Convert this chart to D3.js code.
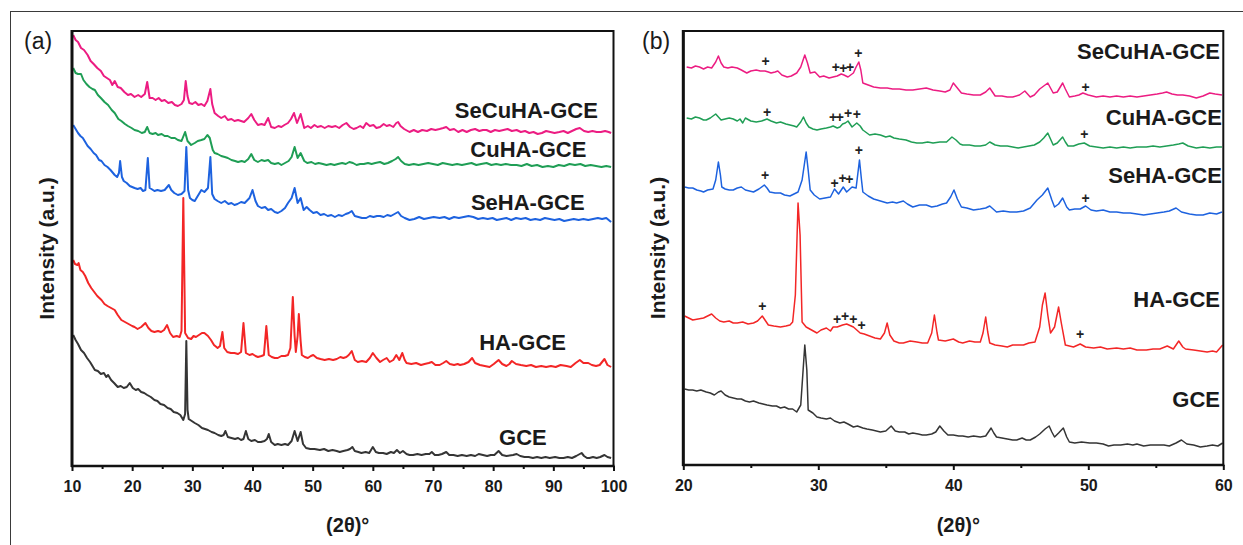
<!DOCTYPE html>
<html><head><meta charset="utf-8">
<script src="https://cdn.jsdelivr.net/npm/d3@7"></script>
<style>body{margin:0;background:#fff;} text{font-family:"Liberation Sans",Arial,Helvetica,sans-serif;}</style>
</head><body><svg id="c" width="1243" height="545"></svg>
<script>
// ---------- DATA ----------
const seriesNames = ["SeCuHA-GCE","CuHA-GCE","SeHA-GCE","HA-GCE","GCE"];
const seriesColors = ["#ec1c82","#1f9e55","#1d62df","#f32626","#353535"];
const xTicksA = [10,20,30,40,50,60,70,80,90,100];
const xMinorA = [15,25,35,45,55,65,75,85,95];
const xTicksB = [20,30,40,50,60];
const xMinorB = [25,35,45,55];

// Panel (a): [2theta, intensity a.u.]
const aSeCuHA = [[10.2,431],[10.6,426],[11.0,424],[11.5,418],[12.0,416],[12.6,411],[13.1,405],[13.6,402],[14.2,398],[14.8,395],[15.3,390],[15.8,388],[16.3,386],[16.7,381],[17.1,385],[17.6,379],[18.1,378],[18.7,374],[19.3,371],[19.8,372],[20.4,369],[21.0,371],[21.5,369],[22.1,372],[22.5,384],[22.9,368],[23.4,368],[23.9,366],[24.4,368],[24.9,365],[25.4,366],[26.0,363],[26.6,364],[27.1,361],[27.6,360],[28.2,362],[28.6,366],[28.9,385],[29.2,370],[29.5,363],[30.0,362],[30.5,364],[31.0,361],[31.5,362],[32.0,360],[32.5,365],[33.0,377],[33.3,362],[33.7,353],[34.3,350],[34.8,348],[35.4,350],[35.9,346],[36.5,347],[37.0,345],[37.6,346],[38.1,345],[38.6,344],[39.3,348],[39.8,352],[40.3,346],[40.9,341],[41.5,342],[42.0,341],[42.6,348],[43.1,339],[43.7,338],[44.3,340],[44.8,339],[45.3,341],[45.9,343],[46.4,347],[46.9,353],[47.4,343],[48.0,352],[48.6,338],[49.2,340],[49.7,338],[50.3,341],[50.8,339],[51.4,340],[52.0,338],[52.6,340],[53.2,339],[53.8,340],[54.4,338],[55.0,341],[55.6,343],[56.2,339],[56.8,337],[57.3,338],[57.9,340],[58.4,338],[58.9,343],[59.5,340],[60.1,341],[60.6,338],[61.2,339],[61.8,342],[62.3,340],[62.8,341],[63.4,339],[63.9,343],[64.2,344],[64.6,340],[65.2,337],[66.1,334],[66.8,336],[67.5,334],[68.2,336],[69.0,335],[69.7,337],[70.4,336],[71.1,337],[71.7,338],[72.2,339],[72.8,336],[73.5,337],[74.2,334],[74.9,336],[75.6,334],[76.3,336],[77.0,337],[77.7,335],[78.3,336],[78.9,336],[79.6,334],[80.3,336],[81.0,335],[81.7,336],[82.4,337],[83.1,335],[83.9,336],[84.6,334],[85.3,335],[86.0,333],[86.7,334],[87.4,332],[88.1,333],[88.8,335],[89.5,334],[90.2,333],[91.0,334],[91.7,335],[92.4,333],[93.1,335],[93.8,337],[94.4,338],[95.1,335],[95.8,334],[96.5,335],[97.2,334],[97.9,334],[98.6,335],[99.2,334],[99.6,333]];
const aCuHA = [[10.2,398],[10.6,393],[11.0,392],[11.5,392],[11.9,386],[12.4,382],[12.9,379],[13.4,377],[13.8,376],[14.3,371],[14.8,368],[15.4,364],[16.0,361],[16.6,356],[17.1,353],[17.7,347],[18.2,345],[18.8,342],[19.3,340],[19.9,338],[20.4,336],[21.0,335],[21.6,333],[22.1,334],[22.5,339],[22.9,333],[23.4,332],[23.9,333],[24.3,331],[24.9,332],[25.4,330],[25.9,330],[26.5,328],[27.1,328],[27.6,326],[28.2,325],[28.8,334],[29.2,325],[29.8,321],[30.4,323],[30.9,325],[31.5,326],[32.0,327],[32.5,331],[32.9,328],[33.1,323],[33.4,316],[33.7,313],[34.2,312],[34.8,310],[35.4,309],[35.9,308],[36.5,306],[37.1,305],[37.6,304],[38.2,305],[38.7,304],[39.3,307],[39.8,312],[40.3,306],[40.9,304],[41.5,306],[42.0,305],[42.6,306],[43.1,303],[43.7,302],[44.3,303],[44.8,301],[45.4,303],[46.0,305],[46.5,309],[47.0,319],[47.5,308],[48.0,313],[48.6,305],[49.1,303],[49.8,304],[50.4,302],[51.0,303],[51.7,302],[52.3,301],[53.0,302],[53.6,301],[54.2,302],[54.9,303],[55.5,302],[56.1,304],[56.7,303],[57.3,301],[57.9,302],[58.5,302],[59.2,303],[59.8,302],[60.4,303],[61.2,304],[61.9,302],[62.5,303],[63.2,305],[63.8,307],[64.2,309],[64.7,305],[65.3,302],[66.0,301],[66.8,302],[67.6,301],[68.4,302],[69.2,303],[70.0,302],[70.8,301],[71.6,303],[72.4,302],[73.2,301],[74.0,302],[74.8,301],[75.6,302],[76.4,303],[77.2,301],[78.0,302],[78.9,303],[79.7,301],[80.5,302],[81.3,301],[82.1,302],[83.0,301],[83.9,301],[84.7,300],[85.6,302],[86.4,300],[87.3,301],[88.2,299],[89.1,300],[90.0,299],[90.9,301],[91.8,300],[92.7,302],[93.6,301],[94.5,302],[95.3,300],[96.2,301],[97.1,300],[98.0,299],[98.8,300],[99.6,299]];
const aSeHA = [[10.2,341],[10.6,337],[11.0,333],[11.4,330],[11.8,328],[12.2,324],[12.6,320],[13.1,317],[13.6,313],[14.0,311],[14.5,306],[14.9,305],[15.4,301],[15.9,299],[16.4,296],[17.1,291],[17.5,289],[17.8,293],[18.0,305],[18.3,289],[18.6,285],[19.1,283],[19.6,280],[20.0,279],[20.4,278],[20.9,277],[21.4,278],[21.8,275],[22.2,276],[22.6,308],[22.9,278],[23.2,277],[23.7,275],[24.2,276],[24.8,275],[25.4,276],[26.1,281],[26.5,276],[27.0,273],[27.6,271],[28.2,272],[28.7,275],[29.0,319],[29.3,276],[29.6,268],[30.0,266],[30.4,265],[30.9,270],[31.5,276],[32.0,274],[32.6,278],[33.0,309],[33.3,272],[33.7,267],[34.2,265],[34.8,263],[35.4,265],[36.0,262],[36.5,263],[37.0,261],[37.5,262],[38.1,264],[38.7,263],[39.5,268],[40.0,276],[40.5,265],[40.9,260],[41.5,258],[42.1,259],[42.6,256],[43.1,257],[43.7,254],[44.2,253],[44.8,255],[45.4,258],[45.9,263],[46.5,268],[47.0,278],[47.5,263],[48.0,268],[48.5,256],[49.0,259],[49.5,256],[50.1,253],[50.7,254],[51.3,251],[51.9,252],[52.5,250],[53.1,251],[53.7,249],[54.3,251],[54.9,250],[55.5,252],[56.0,253],[56.5,255],[57.0,250],[57.6,249],[58.2,248],[58.9,248],[59.5,250],[60.1,249],[60.7,250],[61.2,250],[61.8,249],[62.4,251],[63.0,250],[63.6,252],[64.2,254],[64.7,250],[65.3,248],[66.1,246],[66.9,247],[67.7,249],[68.5,247],[69.3,248],[70.1,249],[71.1,248],[71.9,249],[72.7,247],[73.5,249],[74.3,248],[75.1,249],[75.9,250],[76.7,249],[77.5,247],[78.3,248],[79.1,247],[79.9,248],[80.6,246],[81.4,247],[82.2,248],[83.0,246],[83.8,248],[84.6,247],[85.4,248],[86.2,246],[87.0,247],[87.8,246],[88.6,248],[89.4,247],[90.2,246],[91.0,247],[91.8,245],[92.6,246],[93.4,247],[94.2,246],[95.0,247],[95.8,246],[96.6,247],[97.4,248],[98.1,247],[98.8,248],[99.2,246],[99.6,244]];
const aHA = [[10.2,206],[10.5,202],[10.9,201],[11.1,203],[11.4,196],[11.8,194],[12.2,190],[12.7,183],[13.2,178],[13.7,174],[14.2,170],[14.9,166],[15.4,162],[15.9,160],[16.5,158],[17.1,156],[17.6,151],[18.2,146],[18.8,144],[19.4,142],[20.0,140],[20.4,139],[20.9,137],[21.5,139],[22.2,143],[22.7,138],[23.2,135],[23.7,134],[24.3,135],[24.8,134],[25.3,136],[25.8,141],[26.3,133],[26.8,129],[27.4,130],[27.9,129],[28.2,135],[28.5,268],[28.8,133],[29.3,128],[29.8,127],[30.2,130],[30.6,129],[31.1,131],[31.6,133],[32.0,133],[32.6,130],[33.1,126],[33.6,121],[34.2,118],[34.6,120],[35.0,134],[35.3,118],[35.8,114],[36.4,113],[37.0,113],[37.6,112],[38.1,114],[38.5,143],[38.9,113],[39.5,111],[40.0,112],[40.5,110],[40.9,109],[41.5,110],[41.9,111],[42.3,140],[42.7,111],[43.2,109],[43.7,108],[44.2,108],[44.8,110],[45.4,110],[45.9,111],[46.3,118],[46.7,169],[47.0,130],[47.2,114],[47.5,130],[47.7,152],[48.0,125],[48.2,111],[48.7,109],[49.2,108],[49.7,110],[50.1,111],[50.7,108],[51.3,107],[52.0,106],[52.7,107],[53.4,106],[54.0,107],[54.6,109],[55.1,108],[55.6,109],[56.0,111],[56.5,115],[57.0,106],[57.5,104],[58.2,105],[58.9,104],[59.5,108],[60.0,113],[60.6,108],[61.2,104],[61.7,106],[62.3,108],[62.8,104],[63.4,106],[63.9,111],[64.4,106],[64.9,113],[65.3,106],[65.6,103],[66.4,102],[67.2,103],[68.0,101],[68.6,102],[69.3,103],[69.8,104],[70.4,101],[71.1,101],[71.7,103],[72.2,105],[72.8,102],[73.5,101],[74.1,102],[74.5,101],[75.2,102],[75.9,104],[76.5,108],[77.0,103],[77.8,101],[78.6,100],[79.4,99],[80.1,102],[80.9,106],[81.5,102],[82.2,100],[82.7,102],[83.1,105],[83.8,102],[84.6,101],[85.5,100],[86.3,101],[87.1,99],[88.0,100],[88.8,99],[89.6,100],[90.4,99],[91.2,101],[92.2,100],[92.9,99],[93.7,103],[94.4,106],[95.0,103],[95.8,103],[96.4,101],[97.1,100],[97.7,101],[98.5,107],[99.0,101],[99.6,99]];
const aGCE = [[10.2,131],[10.6,126],[11.0,122],[11.5,116],[12.0,113],[12.5,108],[13.0,104],[13.4,100],[13.8,96],[14.3,95],[14.8,92],[15.3,93],[15.7,89],[16.0,91],[16.5,86],[17.0,83],[17.6,79],[18.1,80],[18.6,78],[19.1,79],[19.6,83],[20.1,78],[20.6,76],[21.0,77],[21.5,74],[22.0,73],[22.5,71],[23.1,69],[23.7,66],[24.2,65],[24.7,62],[25.3,61],[25.9,58],[26.4,57],[26.9,54],[27.5,53],[28.0,51],[28.2,49],[28.5,46],[28.8,52],[29.0,125],[29.2,56],[29.4,47],[29.9,45],[30.4,43],[31.0,41],[31.6,38],[32.1,37],[32.6,36],[33.2,34],[33.7,33],[34.3,31],[34.8,30],[35.2,31],[35.5,35],[35.9,29],[36.5,28],[37.1,27],[37.6,28],[38.1,26],[38.5,27],[38.9,35],[39.3,27],[39.8,25],[40.4,26],[40.9,24],[41.4,24],[42.0,25],[42.4,27],[42.7,32],[43.1,24],[43.7,21],[44.2,22],[44.8,21],[45.4,22],[45.9,21],[46.5,25],[47.0,35],[47.5,25],[48.0,34],[48.4,22],[48.9,18],[49.6,17],[50.3,17],[51.2,16],[51.9,17],[52.6,15],[53.3,16],[54.0,15],[54.5,14],[55.1,15],[55.8,16],[56.2,17],[56.6,19],[57.0,15],[57.6,14],[58.1,13],[58.8,14],[59.4,13],[60.0,19],[60.5,14],[61.0,13],[61.7,13],[62.3,12],[63.0,14],[63.5,13],[64.0,16],[64.5,13],[65.0,15],[65.6,12],[66.1,11],[66.7,11],[67.4,12],[68.1,11],[68.8,12],[69.4,12],[69.8,14],[70.3,11],[70.9,11],[71.5,12],[72.2,14],[72.7,11],[73.4,11],[74.1,10],[74.8,11],[75.6,10],[76.3,11],[77.0,10],[77.6,12],[78.3,11],[79.0,10],[79.6,11],[80.2,11],[80.9,15],[81.5,11],[82.2,10],[83.3,11],[83.9,12],[84.5,10],[85.2,9],[85.9,9],[86.6,8],[87.3,9],[88.0,8],[88.7,9],[89.4,8],[90.3,9],[91.0,8],[91.7,8],[92.4,9],[93.1,8],[93.8,10],[94.4,12],[94.7,13],[95.1,10],[95.6,8],[96.0,8],[96.6,9],[97.2,8],[97.8,9],[98.5,11],[99.0,9],[99.6,8]];

// Panel (b): [2theta, intensity a.u.]
const bSeCuHA = [[20.25,398],[20.6,397],[20.9,399],[21.2,398],[21.5,396],[21.8,398],[22.1,397],[22.4,403],[22.6,409],[22.8,402],[23.0,398],[23.3,397],[23.6,398],[24.0,397],[24.3,395],[24.7,392],[25.0,394],[25.4,395],[25.7,394],[26.05,394],[26.3,393],[26.5,392],[26.8,393],[27.0,394],[27.3,390],[27.7,388],[28.0,389],[28.4,392],[28.7,398],[29.0,410],[29.2,402],[29.4,392],[29.75,393],[30.1,388],[30.4,389],[30.8,387],[31.1,388],[31.4,389],[31.7,391],[31.9,390],[32.2,388],[32.6,392],[32.8,398],[33.0,403],[33.15,395],[33.3,382],[33.7,380],[34.1,378],[34.6,377],[35.1,377],[35.5,376],[36.0,376],[36.5,375],[37.0,375],[37.5,376],[38.0,377],[38.5,375],[39.0,374],[39.4,373],[39.75,375],[40.0,382],[40.3,377],[40.6,372],[41.0,371],[41.5,370],[42.0,370],[42.4,373],[42.7,377],[43.1,369],[43.6,369],[44.0,368],[44.4,368],[44.9,370],[45.3,374],[45.7,368],[46.0,370],[46.4,376],[47.0,382],[47.4,372],[47.7,373],[48.1,382],[48.3,376],[48.6,368],[49.0,369],[49.3,370],[49.6,372],[50.0,370],[50.6,368],[51.1,369],[51.6,368],[52.1,369],[52.6,368],[53.1,369],[53.6,368],[54.1,369],[54.6,370],[55.1,371],[55.5,372],[55.8,373],[56.2,371],[56.6,370],[57.0,370],[57.5,369],[58.0,367],[58.5,369],[59.0,372],[59.4,371],[59.9,370]];
const bCuHA = [[20.25,347],[20.6,346],[20.9,348],[21.2,347],[21.5,345],[21.7,345],[22.0,347],[22.4,351],[22.6,348],[22.8,345],[23.1,346],[23.4,347],[23.7,346],[24.0,344],[24.2,346],[24.4,342],[24.6,347],[25.0,344],[25.4,343],[25.8,344],[26.2,346],[26.5,344],[26.9,342],[27.2,343],[27.6,341],[27.9,340],[28.2,339],[28.4,338],[28.7,343],[28.9,348],[29.1,342],[29.3,338],[29.6,336],[29.9,335],[30.2,336],[30.6,337],[30.9,338],[31.1,339],[31.4,337],[31.6,338],[31.8,341],[32.0,342],[32.2,344],[32.5,338],[32.85,342],[33.1,339],[33.3,335],[33.6,332],[33.8,330],[34.2,331],[34.6,330],[35.0,328],[35.3,329],[35.6,327],[36.0,326],[36.5,325],[36.9,323],[37.3,322],[37.7,322],[38.1,323],[38.5,322],[39.0,323],[39.5,323],[39.9,328],[40.2,325],[40.5,321],[40.7,320],[41.2,320],[41.6,319],[42.0,319],[42.4,320],[42.7,323],[43.1,320],[43.5,319],[44.0,319],[44.4,318],[44.8,317],[45.2,318],[45.6,319],[46.0,320],[46.4,323],[46.7,327],[47.0,332],[47.2,326],[47.4,320],[47.7,322],[48.1,328],[48.3,323],[48.5,319],[48.9,319],[49.3,321],[49.7,322],[50.1,319],[50.6,318],[51.1,317],[51.6,318],[52.1,317],[52.6,318],[53.1,317],[53.6,318],[54.3,318],[54.8,319],[55.3,318],[55.8,319],[56.3,320],[56.7,321],[57.0,322],[57.4,319],[58.0,317],[58.5,318],[59.0,317],[59.5,318],[59.9,318]];
const bSeHA = [[20.1,278],[20.4,277],[20.7,277],[21.0,275],[21.3,274],[21.5,273],[21.8,275],[22.2,276],[22.4,285],[22.6,303],[22.75,290],[22.85,278],[23.1,276],[23.4,275],[23.7,275],[24.0,277],[24.3,278],[24.6,275],[24.9,274],[25.2,273],[25.6,276],[26.0,280],[26.2,277],[26.4,273],[26.8,272],[27.2,272],[27.5,270],[27.9,269],[28.2,271],[28.5,273],[28.8,285],[29.1,313],[29.25,295],[29.4,275],[29.7,270],[30.1,266],[30.5,267],[30.9,268],[31.2,276],[31.5,271],[31.85,278],[32.1,273],[32.5,278],[32.8,277],[33.05,305],[33.2,285],[33.3,273],[33.7,269],[34.1,266],[34.6,264],[35.1,262],[35.5,263],[35.8,262],[36.3,264],[36.6,261],[37.0,258],[37.5,260],[38.0,260],[38.4,258],[38.8,259],[39.2,261],[39.5,262],[39.8,268],[40.05,275],[40.3,266],[40.6,258],[41.0,257],[41.5,255],[42.0,256],[42.4,257],[42.7,259],[43.2,253],[43.7,254],[44.2,253],[44.7,253],[45.2,254],[45.7,257],[46.2,265],[46.6,270],[47.0,277],[47.3,265],[47.5,258],[47.8,261],[48.1,267],[48.4,258],[48.6,255],[49.0,256],[49.4,256],[49.8,259],[50.2,255],[50.6,254],[51.1,255],[51.6,253],[52.1,253],[52.6,252],[53.1,252],[53.6,251],[54.1,250],[54.6,251],[55.1,252],[55.6,253],[56.0,254],[56.5,257],[56.9,253],[57.5,251],[58.0,250],[58.5,250],[59.0,252],[59.5,251],[59.9,253]];
const bHA = [[20.1,149],[20.4,147],[20.7,145],[21.1,146],[21.5,147],[21.8,149],[22.1,151],[22.4,147],[22.7,144],[23.0,143],[23.4,144],[23.7,142],[24.0,142],[24.4,143],[24.8,141],[25.2,142],[25.5,144],[25.85,149],[26.1,144],[26.3,140],[26.7,139],[27.2,138],[27.6,139],[27.9,140],[28.1,143],[28.3,170],[28.5,262],[28.65,230],[28.8,143],[29.1,138],[29.5,135],[29.9,132],[30.2,135],[30.6,137],[30.9,134],[31.1,138],[31.4,138],[31.8,140],[32.1,141],[32.6,138],[33.1,132],[33.4,131],[33.8,129],[34.2,127],[34.6,126],[34.9,132],[35.1,142],[35.3,130],[35.6,124],[36.0,122],[36.3,122],[36.8,124],[37.3,123],[37.7,122],[38.1,122],[38.4,132],[38.6,150],[38.8,132],[38.9,125],[39.4,124],[40.0,126],[40.4,123],[40.7,122],[41.2,124],[41.6,123],[42.0,123],[42.2,132],[42.4,148],[42.55,133],[42.7,122],[43.1,120],[43.6,119],[44.0,118],[44.4,120],[44.8,120],[45.2,120],[45.6,122],[46.05,123],[46.4,138],[46.6,160],[46.8,172],[47.0,150],[47.2,132],[47.5,138],[47.8,158],[48.0,142],[48.3,120],[48.6,119],[48.9,118],[49.4,121],[49.8,118],[50.4,117],[50.9,118],[51.4,116],[52.1,117],[52.6,116],[53.1,117],[53.6,115],[54.3,115],[54.8,116],[55.3,116],[55.85,119],[56.3,116],[56.7,124],[57.0,118],[57.2,116],[57.8,115],[58.3,114],[58.8,113],[59.2,114],[59.5,113],[59.95,120]];
const bGCE = [[20.1,76],[20.4,75],[20.7,75],[21.0,74],[21.3,75],[21.7,73],[22.0,72],[22.3,70],[22.6,73],[22.8,74],[23.1,70],[23.4,68],[23.7,67],[24.0,66],[24.3,66],[24.6,64],[24.9,63],[25.2,64],[25.6,62],[25.9,61],[26.2,60],[26.6,59],[26.9,59],[27.2,57],[27.5,58],[27.8,56],[28.1,56],[28.4,53],[28.7,60],[28.85,90],[29.0,120],[29.15,95],[29.25,55],[29.6,52],[29.9,48],[30.2,47],[30.6,46],[30.9,47],[31.2,44],[31.6,42],[31.9,43],[32.2,41],[32.6,38],[32.9,39],[33.3,37],[33.6,36],[34.0,35],[34.3,34],[34.6,33],[35.0,34],[35.4,39],[35.7,34],[36.0,33],[36.4,33],[36.7,31],[37.0,32],[37.4,31],[37.7,30],[38.0,30],[38.4,31],[38.7,33],[39.0,39],[39.3,34],[39.6,30],[40.0,30],[40.4,29],[40.7,29],[41.1,28],[41.5,29],[42.0,28],[42.4,29],[42.8,37],[43.0,32],[43.2,28],[43.6,27],[44.0,26],[44.4,25],[44.7,25],[45.1,27],[45.4,25],[45.7,25],[46.1,28],[46.4,31],[46.8,36],[47.1,39],[47.3,33],[47.5,28],[47.8,32],[48.15,37],[48.4,28],[48.6,23],[49.0,22],[49.5,23],[50.1,22],[50.6,22],[51.1,21],[51.5,19],[51.9,20],[52.4,20],[52.9,21],[53.3,20],[53.6,21],[54.1,19],[54.6,20],[55.1,20],[55.6,20],[56.0,19],[56.5,22],[56.9,25],[57.3,21],[57.8,20],[58.3,18],[58.8,19],[59.2,20],[59.6,19],[59.95,22]];

// "+" markers in panel (b): [2theta, intensity]
const plusSeCuHA = [[26.1,404],[31.3,398],[31.85,397],[32.35,398],[32.96,412],[49.8,378]];
const plusCuHA = [[26.2,353],[31.1,348],[31.6,348],[32.2,352],[32.85,351],[49.7,331]];
const plusSeHA = [[26.05,290],[31.2,282],[31.8,287],[32.3,286],[33.0,315],[49.8,267]];
const plusHA = [[25.85,159],[31.4,146],[31.98,149],[32.6,146],[33.2,140],[49.4,131]];

// ---------- DRAW ----------
const svg = d3.select("#c");
const FONT = '"Liberation Sans",Arial,Helvetica,sans-serif';

svg.append("rect").attr("x",10.5).attr("y",11.5).attr("width",1240).attr("height",540)
  .attr("fill","none").attr("stroke","#3a3a3a").attr("stroke-width",1);

function panel(cfg){
  const x = d3.scaleLinear().domain(cfg.xdom).range([cfg.left, cfg.right]);
  const y = d3.scaleLinear().domain(cfg.ydom).range([cfg.bottom, cfg.top]);
  const g = svg.append("g");
  const line = d3.line().x(d=>x(d[0])).y(d=>y(d[1]));
  for (let i = cfg.series.length-1; i >= 0; i--) {
    g.append("path").datum(cfg.series[i]).attr("d", line)
      .attr("fill","none").attr("stroke", seriesColors[i])
      .attr("stroke-width", cfg.lw).attr("stroke-linejoin","round");
  }
  if (cfg.plus) {
    cfg.plus.forEach(arr => {
      g.selectAll(null).data(arr).enter().append("text")
        .attr("x", d=>x(d[0])).attr("y", d=>y(d[1]))
        .attr("text-anchor","middle").attr("dominant-baseline","central")
        .attr("font-family",FONT).attr("font-size",14).attr("font-weight","bold")
        .attr("fill","#222").text("+");
    });
  }
  cfg.labels.forEach((lb,i) => {
    g.append("text").attr("x", x(lb[0])).attr("y", y(lb[1]))
      .attr("text-anchor","end").attr("font-family",FONT)
      .attr("font-size",22).attr("font-weight","bold").attr("fill","#1a1a1a")
      .text(seriesNames[i]);
  });
  g.append("rect").attr("x",cfg.left).attr("y",cfg.top)
    .attr("width",cfg.right-cfg.left).attr("height",cfg.bottom-cfg.top)
    .attr("fill","none").attr("stroke","#111").attr("stroke-width",2);
  g.append("line").attr("x1",cfg.left).attr("x2",cfg.left).attr("y1",cfg.top-1).attr("y2",cfg.bottom+1)
    .attr("stroke","#111").attr("stroke-width",3);
  g.append("line").attr("x1",cfg.left-1).attr("x2",cfg.right+1).attr("y1",cfg.bottom).attr("y2",cfg.bottom)
    .attr("stroke","#111").attr("stroke-width",2.5);
  const ax = g.append("g").attr("transform",`translate(0,${cfg.bottom})`)
    .call(d3.axisBottom(x).tickValues(cfg.ticks).tickSize(5).tickPadding(10).tickFormat(d3.format("d")));
  ax.select(".domain").remove();
  ax.selectAll(".tick line").attr("stroke","#111").attr("stroke-width",2);
  ax.selectAll(".tick text").attr("font-family",FONT).attr("font-size",16)
    .attr("font-weight","bold").attr("fill","#1a1a1a");
  const axm = g.append("g").attr("transform",`translate(0,${cfg.bottom})`)
    .call(d3.axisBottom(x).tickValues(cfg.minor).tickSize(3).tickFormat(""));
  axm.select(".domain").remove();
  axm.selectAll(".tick line").attr("stroke","#111").attr("stroke-width",2);
  g.append("text").attr("x",(cfg.left+cfg.right)/2+5).attr("y",532)
    .attr("text-anchor","middle").attr("font-family",FONT).attr("font-size",20)
    .attr("font-weight","bold").attr("fill","#1a1a1a").text("(2θ)°");
  g.append("text").attr("transform",`translate(${cfg.ytx},${(cfg.top+cfg.bottom)/2}) rotate(-90)`)
    .attr("text-anchor","middle").attr("dominant-baseline","central")
    .attr("font-family",FONT).attr("font-size",21).attr("font-weight","bold")
    .attr("fill","#1a1a1a").text("Intensity (a.u.)");
  g.append("text").attr("x",cfg.tagx).attr("y",49).attr("font-family",FONT)
    .attr("font-size",23).attr("fill","#1a1a1a").text(cfg.tag);
}

panel({left:72, right:613.5, top:31, bottom:466, xdom:[10,100], ydom:[0,435],
  series:[aSeCuHA,aCuHA,aSeHA,aHA,aGCE], lw:2.0,
  ticks:xTicksA, minor:xMinorA, ytx:46, tag:"(a)", tagx:24,
  labels:[[97.4,348],[95.5,309],[95.2,256],[92.1,116],[88.9,21]]});

panel({left:683.3, right:1223.3, top:31, bottom:465, xdom:[20,60], ydom:[0,434],
  series:[bSeCuHA,bCuHA,bSeHA,bHA,bGCE], lw:1.5,
  ticks:xTicksB, minor:xMinorB, ytx:657, tag:"(b)", tagx:642,
  plus:[plusSeCuHA,plusCuHA,plusSeHA,plusHA],
  labels:[[59.76,406],[59.9,340],[59.9,282],[59.76,158],[59.76,58]]});
</script>
</body></html>
